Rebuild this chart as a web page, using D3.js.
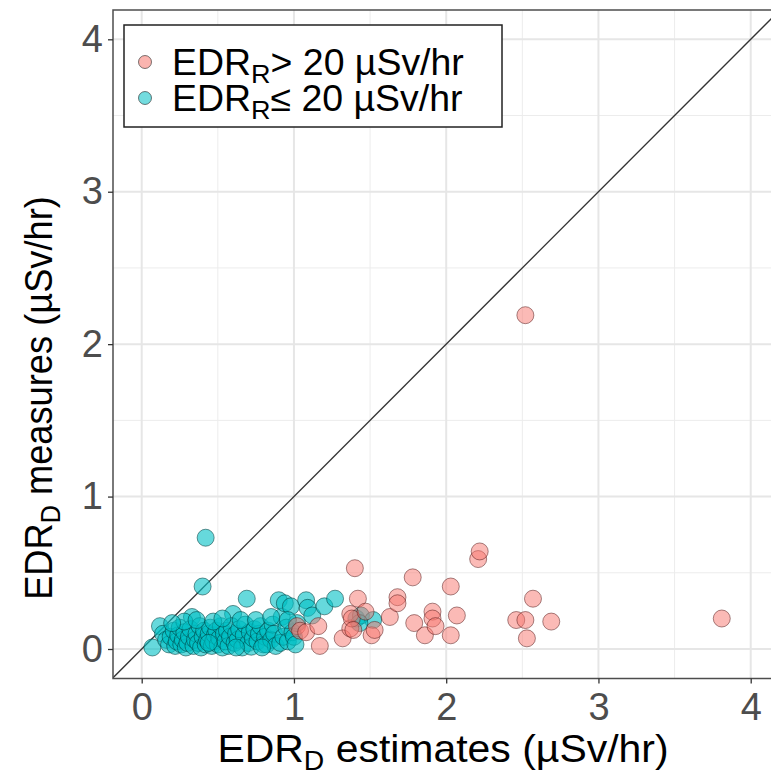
<!DOCTYPE html>
<html>
<head>
<meta charset="utf-8">
<script src="https://cdn.jsdelivr.net/npm/d3@7"></script>
<style>
  body { margin: 0; background: #fff; }
  text { font-family: "Liberation Sans", Arial, sans-serif; }
</style>
</head>
<body>
<div id="chart"></div>
<script>
// EDR_R > 20 uSv/hr  [estimate, measure]
const highPoints = [
    [1.02, 0.15], [1.04, 0.12], [1.08, 0.11], [1.16, 0.15], [1.17, 0.02],
    [1.32, 0.07], [1.37, 0.135], [1.37, 0.23], [1.38, 0.20], [1.39, 0.125],
    [1.40, 0.53], [1.42, 0.33], [1.47, 0.245], [1.51, 0.09], [1.53, 0.125],
    [1.63, 0.21], [1.68, 0.34], [1.68, 0.30], [1.78, 0.47], [1.79, 0.17],
    [1.86, 0.09], [1.91, 0.245], [1.91, 0.20], [1.93, 0.15], [2.03, 0.41],
    [2.03, 0.09], [2.07, 0.22], [2.21, 0.59], [2.22, 0.64], [2.46, 0.19],
    [2.52, 0.19], [2.53, 0.07], [2.52, 2.19], [2.57, 0.33], [2.69, 0.18],
    [3.81, 0.20]
];

// EDR_R <= 20 uSv/hr
const lowPoints = [
    [0.07, 0.01], [0.12, 0.15], [0.14, 0.10], [0.16, 0.06], [0.18, 0.03],
    [0.19, 0.08], [0.21, 0.12], [0.22, 0.02], [0.23, 0.05], [0.24, 0.09],
    [0.25, 0.14], [0.26, 0.03], [0.27, 0.06], [0.28, 0.11], [0.29, 0.01],
    [0.30, 0.04], [0.31, 0.08], [0.33, 0.21], [0.32, 0.13], [0.34, 0.02],
    [0.35, 0.06], [0.36, 0.10], [0.37, 0.04], [0.38, 0.15], [0.39, 0.01],
    [0.40, 0.41], [0.42, 0.73], [0.40, 0.08], [0.41, 0.12], [0.42, 0.03],
    [0.43, 0.06], [0.44, 0.10], [0.45, 0.14], [0.46, 0.02], [0.47, 0.05],
    [0.48, 0.09], [0.49, 0.12], [0.50, 0.03], [0.51, 0.07], [0.52, 0.15],
    [0.53, 0.01], [0.54, 0.10], [0.55, 0.05], [0.56, 0.12], [0.57, 0.02],
    [0.58, 0.08], [0.60, 0.23], [0.59, 0.15], [0.61, 0.04], [0.62, 0.10],
    [0.63, 0.06], [0.64, 0.13], [0.66, 0.01], [0.67, 0.09], [0.69, 0.33],
    [0.68, 0.16], [0.70, 0.04], [0.71, 0.11], [0.72, 0.015], [0.73, 0.07],
    [0.74, 0.13], [0.76, 0.05], [0.77, 0.10], [0.78, 0.15], [0.80, 0.03],
    [0.81, 0.08], [0.82, 0.03], [0.83, 0.12], [0.85, 0.06], [0.86, 0.16],
    [0.87, 0.10], [0.88, 0.02], [0.90, 0.32], [0.91, 0.04], [0.92, 0.21],
    [0.93, 0.08], [0.94, 0.30], [0.95, 0.14], [0.96, 0.05], [0.98, 0.28],
    [0.99, 0.11], [1.00, 0.08], [1.01, 0.03], [1.02, 0.17], [1.08, 0.32],
    [1.09, 0.27], [1.12, 0.22], [1.20, 0.28], [1.27, 0.33], [1.41, 0.20],
    [1.44, 0.22], [1.52, 0.19], [1.43, 0.17], [0.28, 0.18], [0.36, 0.19],
    [0.47, 0.18], [0.53, 0.20], [0.65, 0.19], [0.75, 0.19], [0.85, 0.21],
    [0.96, 0.19], [0.20, 0.17], [0.44, 0.04], [0.62, 0.01], [0.79, 0.01]
];

const xTicks = [0, 1, 2, 3, 4];
const yTicks = [0, 1, 2, 3, 4];
const minorTicks = [0.5, 1.5, 2.5, 3.5];
const legendItems = [
    {sub: "R", rest: "> 20 µSv/hr", color: "#F8766D"},
    {sub: "R", rest: "≤ 20 µSv/hr", color: "#00BFC4"}
];

const W = 771, H = 778;
const panel = {left: 113, right: 800, top: 10, bottom: 678.5};

const svg = d3.select("#chart").append("svg")
    .attr("width", W)
    .attr("height", H);

const x = d3.scaleLinear().domain([0, 4]).range([141.7, 750.7]);
const y = d3.scaleLinear().domain([0, 4]).range([649, 39.3]);

svg.append("defs").append("clipPath").attr("id", "clip")
    .append("rect")
    .attr("x", panel.left).attr("y", panel.top)
    .attr("width", panel.right - panel.left).attr("height", panel.bottom - panel.top);

const plot = svg.append("g").attr("clip-path", "url(#clip)");

// grid
plot.selectAll(".vminor").data(minorTicks).enter().append("line")
    .attr("x1", d => x(d)).attr("x2", d => x(d))
    .attr("y1", panel.top).attr("y2", panel.bottom)
    .attr("stroke", "#ececec").attr("stroke-width", 1);
plot.selectAll(".hminor").data(minorTicks).enter().append("line")
    .attr("y1", d => y(d)).attr("y2", d => y(d))
    .attr("x1", panel.left).attr("x2", panel.right)
    .attr("stroke", "#ececec").attr("stroke-width", 1);
plot.selectAll(".vmajor").data(xTicks).enter().append("line")
    .attr("x1", d => x(d)).attr("x2", d => x(d))
    .attr("y1", panel.top).attr("y2", panel.bottom)
    .attr("stroke", "#e6e6e6").attr("stroke-width", 2);
plot.selectAll(".hmajor").data(yTicks).enter().append("line")
    .attr("y1", d => y(d)).attr("y2", d => y(d))
    .attr("x1", panel.left).attr("x2", panel.right)
    .attr("stroke", "#e6e6e6").attr("stroke-width", 2);

// 1:1 line
plot.append("line")
    .attr("x1", x(-0.5)).attr("y1", y(-0.5))
    .attr("x2", x(4.5)).attr("y2", y(4.5))
    .attr("stroke", "#333").attr("stroke-width", 1.3);

// points
plot.selectAll(".low").data(lowPoints).enter().append("circle")
    .attr("cx", d => x(d[0])).attr("cy", d => y(d[1]))
    .attr("r", 8.5)
    .attr("fill", "#00BFC4").attr("fill-opacity", 0.6)
    .attr("stroke", "rgba(0,60,60,0.55)").attr("stroke-width", 1);
plot.selectAll(".high").data(highPoints).enter().append("circle")
    .attr("cx", d => x(d[0])).attr("cy", d => y(d[1]))
    .attr("r", 8.5)
    .attr("fill", "#F8766D").attr("fill-opacity", 0.5)
    .attr("stroke", "rgba(80,20,20,0.5)").attr("stroke-width", 1);

// panel border
svg.append("rect")
    .attr("x", panel.left).attr("y", panel.top)
    .attr("width", panel.right - panel.left).attr("height", panel.bottom - panel.top)
    .attr("fill", "none").attr("stroke", "#4d4d4d").attr("stroke-width", 1.5);

// axes
const xAxis = svg.append("g")
    .attr("transform", `translate(0,${panel.bottom})`)
    .call(d3.axisBottom(x).tickValues(xTicks).tickSize(5).tickPadding(10).tickFormat(d3.format("d")));
const yAxis = svg.append("g")
    .attr("transform", `translate(${panel.left},0)`)
    .call(d3.axisLeft(y).tickValues(yTicks).tickSize(5).tickPadding(5).tickFormat(d3.format("d")));
[xAxis, yAxis].forEach(a => {
    a.select(".domain").remove();
    a.selectAll("line").attr("stroke", "#333").attr("stroke-width", 1.3);
    a.selectAll("text").attr("fill", "#4d4d4d").style("font-size", "38px")
        .style("font-family", "Liberation Sans, Arial, sans-serif");
});

// axis titles
const xt = svg.append("text")
    .attr("transform", "translate(443,762) scale(1.05,1)")
    .attr("text-anchor", "middle")
    .style("font-size", "39px");
xt.append("tspan").text("EDR");
xt.append("tspan").attr("dy", 8).style("font-size", "27px").text("D");
xt.append("tspan").attr("dy", -8).text(" estimates (µSv/hr)");

const yt = svg.append("text")
    .attr("transform", "translate(52,398) rotate(-90) scale(0.93,1)")
    .attr("text-anchor", "middle")
    .style("font-size", "39px");
yt.append("tspan").text("EDR");
yt.append("tspan").attr("dy", 8).style("font-size", "27px").text("D");
yt.append("tspan").attr("dy", -8).text(" measures (µSv/hr)");

// legend
const legend = svg.append("g");
legend.append("rect")
    .attr("x", 124).attr("y", 25).attr("width", 378).attr("height", 102)
    .attr("fill", "#fff").attr("stroke", "#222").attr("stroke-width", 1.5);
const items = legend.selectAll(".item").data(legendItems).enter().append("g")
    .attr("transform", (d, i) => `translate(0,${62 + i * 36})`);
items.append("circle")
    .attr("cx", 145).attr("cy", 0).attr("r", 6.5)
    .attr("fill", d => d.color).attr("fill-opacity", 0.55)
    .attr("stroke", "rgba(0,0,0,0.5)");
const lt = items.append("text")
    .attr("transform", "translate(172,13) scale(1.04,1)")
    .style("font-size", "36px");
lt.append("tspan").text("EDR");
lt.append("tspan").attr("dy", 8).style("font-size", "26px").text(d => d.sub);
lt.append("tspan").attr("dy", -8).text(d => d.rest);
</script>
</body>
</html>
